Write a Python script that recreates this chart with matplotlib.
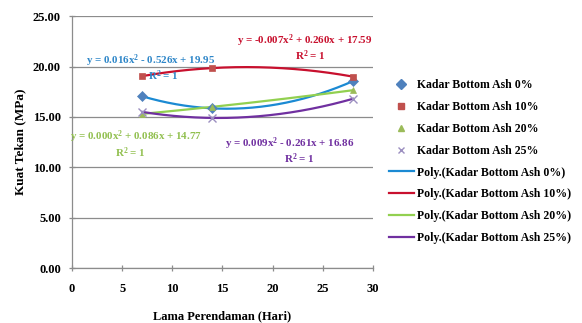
import matplotlib.pyplot as plt
import numpy as np
from matplotlib.lines import Line2D

# -----------------------------------
# Data
# -----------------------------------

hari = [7, 14, 28]

ash_0 = [17.05, 15.85, 18.55]
ash_10 = [19.05, 19.85, 19.00]
ash_20 = [15.30, 16.00, 17.65]
ash_25 = [15.50, 14.90, 16.80]

series_names = ["Kadar Bottom Ash 0%", "Kadar Bottom Ash 10%",
                "Kadar Bottom Ash 20%", "Kadar Bottom Ash 25%"]

equations = ["y = 0.016x$^2$ - 0.526x + 19.95",
             "y = -0.007x$^2$ + 0.260x + 17.59",
             "y = 0.000x$^2$ + 0.086x + 14.77",
             "y = 0.009x$^2$ - 0.261x + 16.86"]

y_ticks = [0, 5, 10, 15, 20, 25]
x_ticks = [0, 5, 10, 15, 20, 25, 30]

# -----------------------------------
# Styles
# -----------------------------------

marker_colors = ["#4F81BD", "#C0504D", "#9BBB59", "#9C8FC0"]
markers = ["D", "s", "^", "x"]
trend_colors = ["#1B8AD3", "#C8102E", "#92D050", "#7030A0"]
text_colors = ["#2E86C8", "#C8102E", "#92C050", "#7030A0"]

plt.rcParams['font.family'] = ['Liberation Serif', 'DejaVu Serif']
plt.rcParams['font.weight'] = 'bold'
plt.rcParams['mathtext.fontset'] = 'custom'
plt.rcParams['mathtext.rm'] = 'Liberation Serif:bold'
plt.rcParams['mathtext.default'] = 'rm'

fig = plt.figure(figsize=(5.82, 3.23), dpi=100)
ax = fig.add_axes([0.1237, 0.170, 0.5172, 0.780])

all_series = [ash_0, ash_10, ash_20, ash_25]

# -----------------------------------
# Trendlines and points
# -----------------------------------

xs = np.linspace(hari[0], hari[-1], 200)
for i, vals in enumerate(all_series):
    coef = np.polyfit(hari, vals, 2)
    ax.plot(xs, np.polyval(coef, xs), color=trend_colors[i], lw=1.6, zorder=3)

for i, vals in enumerate(all_series):
    size = 5 if markers[i] != "x" else 6
    ax.plot(hari, vals, linestyle="none", marker=markers[i],
            color=marker_colors[i], markersize=size, zorder=4,
            markeredgewidth=1.0 if markers[i] == "x" else 0.5)

# -----------------------------------
# Equation labels
# -----------------------------------

fs = 7.9

ax.text(1.4, 20.55, equations[0], color=text_colors[0], fontsize=fs,
        ha="left", va="center", zorder=5)
ax.text(7.6, 19.1, "R$^2$ = 1", color=text_colors[0], fontsize=fs,
        ha="left", va="center", zorder=5)

ax.text(16.4, 22.6, equations[1], color=text_colors[1], fontsize=fs,
        ha="left", va="center", zorder=5)
ax.text(23.8, 21.1, "R$^2$ = 1", color=text_colors[1], fontsize=fs,
        ha="center", va="center", zorder=5)

ax.text(-0.2, 13.0, equations[2], color=text_colors[2], fontsize=fs,
        ha="left", va="center", zorder=5)
ax.text(5.8, 11.45, "R$^2$ = 1", color=text_colors[2], fontsize=fs,
        ha="center", va="center", zorder=5)

ax.text(15.2, 12.35, equations[3], color=text_colors[3], fontsize=fs,
        ha="left", va="center", zorder=5)
ax.text(22.7, 10.85, "R$^2$ = 1", color=text_colors[3], fontsize=fs,
        ha="center", va="center", zorder=5)

# -----------------------------------
# Axes
# -----------------------------------

ax.set_xlim(0, 30)
ax.set_ylim(0, 25)
ax.set_xticks(x_ticks)
ax.set_yticks(y_ticks)
ax.set_xticklabels([str(t) for t in x_ticks], fontsize=9)
ax.set_yticklabels(["%.2f" % t for t in y_ticks], fontsize=9)
ax.yaxis.grid(True, color="#8C8C8C", lw=0.9)
ax.set_axisbelow(True)

for s in ["top", "right"]:
    ax.spines[s].set_visible(False)
for s in ["left", "bottom"]:
    ax.spines[s].set_color("#8C8C8C")
    ax.spines[s].set_linewidth(0.9)
ax.tick_params(axis="both", colors="#8C8C8C", labelcolor="black",
               length=4, width=0.9, direction="inout")
ax.tick_params(axis="x", pad=9)
ax.tick_params(axis="y", pad=6)

ax.set_xlabel("Lama Perendaman (Hari)", fontsize=9, fontweight="bold",
              labelpad=11)
ax.set_ylabel("Kuat Tekan (MPa)", fontsize=9.5, fontweight="bold",
              labelpad=5)

# -----------------------------------
# Legend
# -----------------------------------

handles = []
labels = []
for i in range(4):
    handles.append(Line2D([], [], linestyle="none", marker=markers[i],
                          color=marker_colors[i], markersize=5))
    labels.append(series_names[i])
for i in range(4):
    handles.append(Line2D([], [], color=trend_colors[i], lw=1.6))
    labels.append("Poly.(" + series_names[i] + ")")

fig.legend(handles, labels, loc="upper left",
           bbox_to_anchor=(0.650, 0.787), frameon=False,
           fontsize=8.5, labelspacing=0.83, handlelength=2.1,
           handletextpad=0.3)

fig.savefig("out.png", dpi=100)
